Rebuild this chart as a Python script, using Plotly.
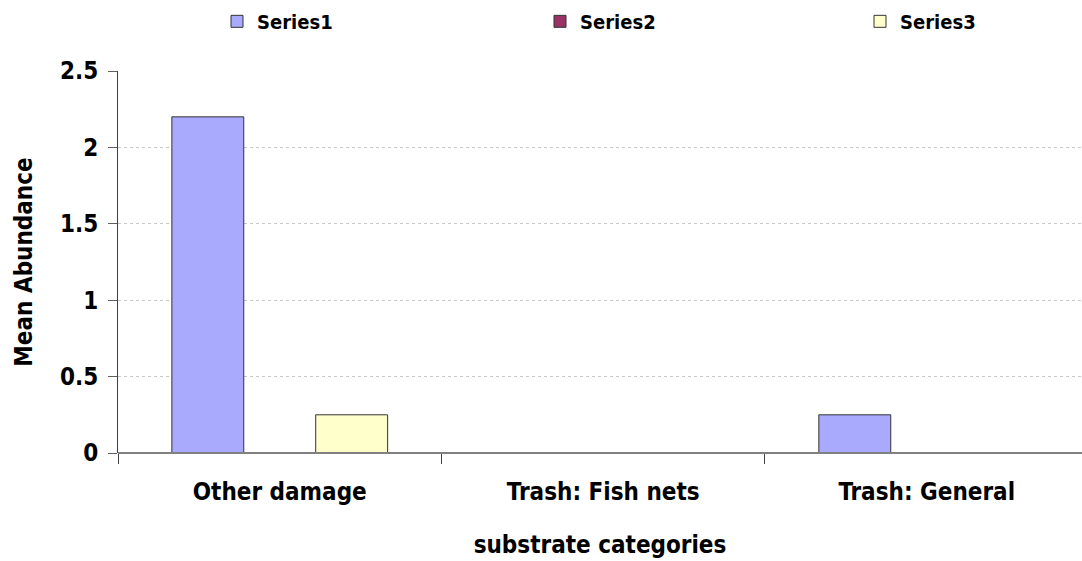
import plotly.graph_objects as go

# Data
categories = ["Other damage", "Trash: Fish nets", "Trash: General"]
series1 = [2.2, 0, 0.25]
series2 = [0, 0, 0]
series3 = [0.25, 0, 0]
series_names = ["Series1", "Series2", "Series3"]
series_colors = ["#A9AAFE", "#993366", "#FFFFCC"]
y_ticks = [0, 0.5, 1, 1.5, 2, 2.5]
y_tick_text = ["0", "0.5", "1", "1.5", "2", "2.5"]

FONT = "DejaVu Sans Condensed, DejaVu Sans, sans-serif"

fig = go.Figure()
legend_ids = ["legend", "legend2", "legend3"]
for name, vals, color, lg in zip(series_names, [series1, series2, series3], series_colors, legend_ids):
    fig.add_trace(go.Bar(
        x=categories, y=vals, name="<b>%s</b>" % name, legend=lg, showlegend=True,
        marker=dict(color=color, line=dict(color="#333333", width=1)),
    ))

PLOT_L, PLOT_W = 118, 964
legend_common = dict(
    orientation="h", xref="paper", yref="paper", yanchor="middle", xanchor="left",
    bgcolor="rgba(0,0,0,0)", borderwidth=0, itemwidth=30,
    font=dict(family=FONT, size=20, color="#000000"),
)
fig.update_layout(
    width=1082, height=561,
    margin=dict(l=PLOT_L, r=0, t=71, b=108),
    paper_bgcolor="white", plot_bgcolor="white",
    barmode="group", bargap=0.333, bargroupgap=0,
    showlegend=True,
    font=dict(family=FONT, color="#000000"),
    legend=dict(x=(217 - PLOT_L) / PLOT_W, y=1.13, **legend_common),
    legend2=dict(x=(540 - PLOT_L) / PLOT_W, y=1.13, **legend_common),
    legend3=dict(x=(860 - PLOT_L) / PLOT_W, y=1.13, **legend_common),
    xaxis=dict(
        type="category", range=[-0.5, 2.48],
        tickvals=categories, ticktext=["<b>%s</b>" % c for c in categories],
        showline=False,
        ticks="outside", tickson="boundaries", ticklen=10, tickcolor="#404040", tickwidth=1,
        tickfont=dict(family=FONT, size=24, color="#000000"),
        ticklabelstandoff=22,
        showgrid=False, automargin=False,
        title=dict(text="<b>substrate categories</b>",
                   font=dict(family=FONT, size=24, color="#000000"), standoff=31),
    ),
    yaxis=dict(
        range=[0, 2.5], tickvals=y_ticks, ticktext=["<b>%s</b>" % t for t in y_tick_text],
        showline=True, linecolor="#404040", linewidth=1,
        ticks="outside", ticklen=9, tickcolor="#606060",
        tickfont=dict(family=FONT, size=24, color="#000000"),
        ticklabelstandoff=5,
        showgrid=True, gridcolor="#C8C8C8", griddash="dot", gridwidth=1,
        # baseline drawn over the bars so empty bars leave no outline
        zeroline=True, zerolinecolor="#808080", zerolinewidth=2,
        zerolinelayer="above traces",
        automargin=False,
        title=dict(text="<b>Mean Abundance</b>",
                   font=dict(family=FONT, size=24, color="#000000"), standoff=20),
    ),
)

fig.write_html("out.html")
